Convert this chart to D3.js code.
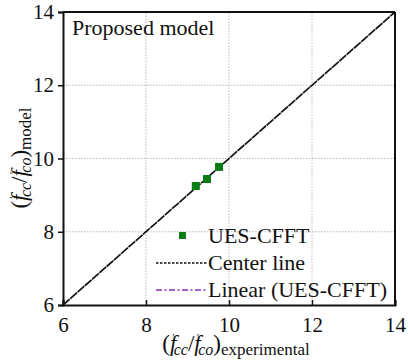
<!DOCTYPE html>
<html>
<head>
<meta charset="utf-8">
<script src="https://cdn.jsdelivr.net/npm/d3@7"></script>
<style>
  body { margin: 0; background: #fff; }
  svg text { font-family: 'Liberation Serif', serif !important; fill: #111; }
</style>
</head>
<body>
<svg id="chart" width="408" height="364"></svg>
<script>
// data
const expVals = [9.20, 9.47, 9.76]
const modelVals = [9.25, 9.44, 9.77]
const centerLine = [6, 14]
const xTicks = [6, 8, 10, 12, 14]
const yTicks = [6, 8, 10, 12, 14]
const legendLabels = ['UES-CFFT', 'Center line', 'Linear (UES-CFFT)']

const margin = { top: 12, left: 63, right: 13, bottom: 59 }
const width = 408, height = 364
const svg = d3.select('#chart')

const x = d3.scaleLinear().domain([6, 14]).range([margin.left, width - margin.right])
const y = d3.scaleLinear().domain([6, 14]).range([height - margin.bottom, margin.top])

// grid
const grid = svg.append('g')
grid.selectAll('.gx').data(xTicks.slice(1, -1)).join('line')
    .attr('x1', d => x(d)).attr('x2', d => x(d))
    .attr('y1', y(6)).attr('y2', y(14))
    .attr('stroke', '#aaa').attr('stroke-width', 0.8).attr('stroke-dasharray', '1.5,1.5')
grid.selectAll('.gy').data(yTicks.slice(1, -1)).join('line')
    .attr('y1', d => y(d)).attr('y2', d => y(d))
    .attr('x1', x(6)).attr('x2', x(14))
    .attr('stroke', '#aaa').attr('stroke-width', 0.8).attr('stroke-dasharray', '1.5,1.5')

// axes
const xAxis = svg.append('g').attr('transform', `translate(0,${y(6)})`)
    .call(d3.axisBottom(x).tickValues(xTicks).tickSize(-5).tickPadding(9))
const yAxis = svg.append('g').attr('transform', `translate(${x(6)},0)`)
    .call(d3.axisLeft(y).tickValues(yTicks).tickSize(5).tickPadding(4))
for (const ax of [xAxis, yAxis]) {
    ax.attr('font-family', null).attr('font-size', null)
    ax.select('.domain').attr('stroke', '#111').attr('stroke-width', 2)
    ax.selectAll('.tick line').attr('stroke', '#111').attr('stroke-width', 1.5)
    ax.selectAll('.tick text').style('font-size', '21px')
}
xAxis.selectAll('.tick text').attr('dy', '0.85em')
// frame top/right
svg.append('line').attr('x1', x(6)).attr('x2', x(14)).attr('y1', y(14)).attr('y2', y(14))
    .attr('stroke', '#111').attr('stroke-width', 2)
svg.append('line').attr('x1', x(14)).attr('x2', x(14)).attr('y1', y(14)).attr('y2', y(6))
    .attr('stroke', '#111').attr('stroke-width', 2)

// center line
svg.append('line')
    .attr('x1', x(centerLine[0])).attr('y1', y(centerLine[0]))
    .attr('x2', x(centerLine[1])).attr('y2', y(centerLine[1]))
    .attr('stroke', '#111').attr('stroke-width', 1.7).attr('stroke-dasharray', '9,0.7')

// points
const ms = 8
svg.selectAll('.pt').data(expVals).join('rect')
    .attr('x', (d, i) => x(d) - ms / 2).attr('y', (d, i) => y(modelVals[i]) - ms / 2)
    .attr('width', ms).attr('height', ms).attr('fill', '#0b7d16')

// title
svg.append('text').attr('x', 72).attr('y', 35).style('font-size', '22px').text('Proposed model')

// legend
const lg = svg.append('g')
const rowY = [236, 263, 290]
lg.append('rect').attr('x', 179).attr('y', rowY[0] - 4).attr('width', 7).attr('height', 7).attr('fill', '#0b7d16')
lg.append('line').attr('x1', 156).attr('x2', 207).attr('y1', rowY[1]).attr('y2', rowY[1])
    .attr('stroke', '#111').attr('stroke-width', 1.3).attr('stroke-dasharray', '2.5,1.5')
lg.append('line').attr('x1', 156).attr('x2', 207).attr('y1', rowY[2]).attr('y2', rowY[2])
    .attr('stroke', '#8a2fc0').attr('stroke-width', 1.5).attr('stroke-dasharray', '6,2.5,2,2.5')
lg.selectAll('.lt').data(legendLabels).join('text')
    .attr('x', 208).attr('y', (d, i) => rowY[i] + 7).style('font-size', '22px').text(d => d)

// axis label helper
function ratioLabel(t, sub) {
    t.append('tspan').text('(')
    t.append('tspan').style('font-style', 'italic').text('f')
    t.append('tspan').style('font-size', '11px').attr('dy', -10).attr('dx', -4).text('′')
    t.append('tspan').style('font-size', '16px').style('font-style', 'italic').attr('dy', 14).attr('dx', -1).text('cc')
    t.append('tspan').attr('dy', -4).text('/')
    t.append('tspan').style('font-style', 'italic').text('f')
    t.append('tspan').style('font-size', '11px').attr('dy', -10).attr('dx', -4).text('′')
    t.append('tspan').style('font-size', '16px').style('font-style', 'italic').attr('dy', 14).attr('dx', -1).text('co')
    t.append('tspan').attr('dy', -4).text(')')
    t.append('tspan').style('font-size', '17px').attr('dy', 4).text(sub)
}
const xl = svg.append('text').attr('x', 236).attr('y', 351).style('font-size', '23px').attr('text-anchor', 'middle')
ratioLabel(xl, 'experimental')
const yl = svg.append('text').attr('transform', 'translate(27,158) rotate(-90)')
    .style('font-size', '23px').attr('text-anchor', 'middle')
ratioLabel(yl, 'model')
</script>
</body>
</html>
